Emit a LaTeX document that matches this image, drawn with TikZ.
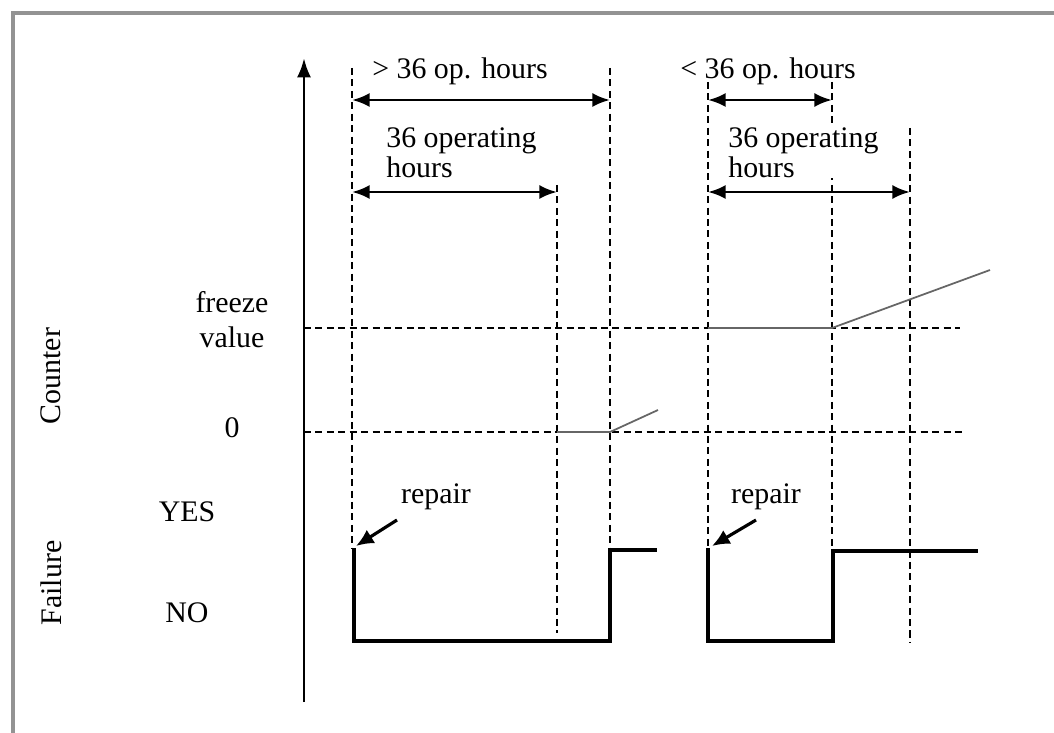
\documentclass[tikz,border=0pt]{standalone}
\usepackage{fontspec}
\setmainfont{Liberation Serif}
\usetikzlibrary{arrows.meta}
\tikzset{
  dimline/.style={{Latex[length=10pt,width=8pt]}-{Latex[length=10pt,width=8pt]}, line width=1.7pt},
  guide/.style={dash pattern=on 4pt off 2.5pt, line width=1.5pt},
  signal/.style={line width=2.6pt, line join=miter},
  countline/.style={gray!80!black, line width=1pt},
  repairarrow/.style={-{Latex[length=10pt,width=9pt]}, line width=1.8pt},
  lbl/.style={inner sep=0pt},
}
\begin{document}
\begin{tikzpicture}[x=0.02cm, y=-0.02cm, font=\fontsize{17}{20}\selectfont]
\useasboundingbox (0,0) rectangle (1054,733);
%\draw[style=help lines, step=50] (0,0) grid (1054,733);

% frame
\draw[gray!85, line width=1.8pt] (13,733) -- (13,13) -- (1054,13);

% axis
\coordinate (axbot) at (304,702);
\coordinate (axtop) at (304,58);
\draw[line width=1.7pt, -{Latex[length=11pt,width=8pt]}] (axbot) -- (axtop);

% levels
\coordinate (fz0) at (304,328); \coordinate (fz1) at (960,328);
\coordinate (ze0) at (304,432); \coordinate (ze1) at (962,432);
\draw[guide] (fz0) -- (fz1);
\draw[guide] (ze0) -- (ze1);

% first period
\coordinate (a1) at (352,68);  \coordinate (a1b) at (352,548);
\coordinate (a2) at (557,185); \coordinate (a2b) at (557,633);
\coordinate (a3) at (610,68);  \coordinate (a3b) at (610,550);
\draw[guide] (a1) -- (a1b);
\draw[guide] (a2) -- (a2b);
\draw[guide] (a3) -- (a3b);
\draw[dimline] (352,100) -- (610,100);
\draw[dimline] (352,192) -- (557,192);
\draw[countline] (557,432) -- (610,432) -- (658,410);
\draw[signal] (354,548) -- (354,641) -- (610,641) -- (610,550) -- (657,550);

% second period
\coordinate (b1) at (708,82);  \coordinate (b1b) at (708,548);
\coordinate (b2) at (832,82);  \coordinate (b2b) at (832,551);
\coordinate (b3) at (910,128); \coordinate (b3b) at (910,643);
\draw[guide] (b1) -- (b1b);
\draw[guide] (b2) -- (b2b);
\draw[guide] (b3) -- (b3b);
\draw[dimline] (708,100) -- (832,100);
\draw[dimline] (708,192) -- (910,192);
\draw[countline] (708,328) -- (832,328) -- (990,270);
\draw[signal] (708,548) -- (708,641) -- (833,641) -- (833,551) -- (978,551);

% texts
\node[lbl] (over) at (460,71) {>~36 op. hours};
\node[lbl] (under) at (768,71) {<~36 op. hours};
\node[lbl, anchor=north west, align=left, font=\fontsize{17}{17.5}\selectfont] (op1) at (386,127) {36 operating\\hours};
\node[lbl, anchor=north west, align=left, fill=white, font=\fontsize{17}{17.5}\selectfont] (op2) at (728,127) {36 operating\\hours};

% repair
\node[lbl] (rep1) at (436,497) {repair};
\node[lbl] (rep2) at (766,497) {repair};
\coordinate (rep1from) at (397,520); \coordinate (rep1to) at (356,546);
\coordinate (rep2from) at (756,520); \coordinate (rep2to) at (712,546);
\draw[repairarrow] (rep1from) -- (rep1to);
\draw[repairarrow] (rep2from) -- (rep2to);

% left labels
\node[lbl, align=center] (freeze) at (232,320) {freeze\\value};
\node[lbl] (zero) at (232,428) {0};
\node[lbl] (yes) at (187,512) {YES};
\node[lbl] (no) at (187,613) {NO};
\node[lbl, rotate=90] (counter) at (51,376) {Counter};
\node[lbl, rotate=90] (failure) at (51,583) {Failure};
\end{tikzpicture}
\end{document}
